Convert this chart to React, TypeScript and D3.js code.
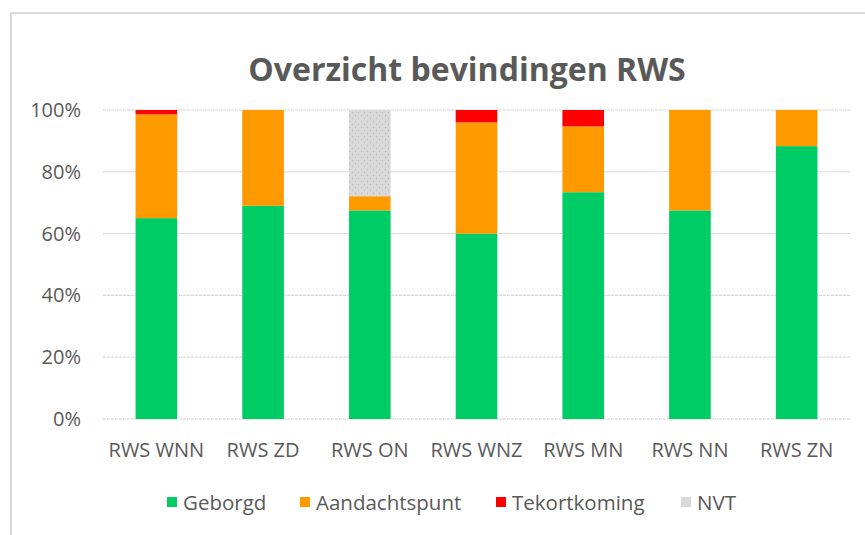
import React from "react";
import * as d3 from "d3";

const categories = ["RWS WNN", "RWS ZD", "RWS ON", "RWS WNZ", "RWS MN", "RWS NN", "RWS ZN"];
const seriesNames = ["Geborgd", "Aandachtspunt", "Tekortkoming", "NVT"];
const geborgd = [65, 69, 67.5, 60, 73.4, 67.5, 88.3];
const aandachtspunt = [33.6, 31, 4.6, 36, 21.3, 32.5, 11.7];
const tekortkoming = [1.4, 0, 0, 4, 5.3, 0, 0];
const nvt = [0, 0, 27.9, 0, 0, 0, 0];
const yTicks = [0, 20, 40, 60, 80, 100];

const colors = ["#00CC66", "#FF9900", "#FF0000", "url(#nvtPattern)"];
const legendColors = ["#00CC66", "#FF9900", "#FF0000", "#D9D9D9"];

const W = 865;
const H = 535;
const FONT = "'Open Sans', sans-serif";

export default function App() {
  const series = [geborgd, aandachtspunt, tekortkoming, nvt];
  const x = d3.scaleBand<string>().domain(categories).range([103, 850]).paddingInner(0.61).paddingOuter(0.305);
  const y = d3.scaleLinear().domain([0, 100]).range([419, 110]);
  const table = categories.map((c, i) => {
    const o: any = { cat: c };
    seriesNames.forEach((s, k) => (o[s] = series[k][i]));
    return o;
  });
  const stacked = d3.stack<any>().keys(seriesNames)(table);
  const legendX = [167, 300, 496, 681];

  return (
    <svg width={W} height={H} style={{ position: "absolute", left: 0, top: 0 }}>
      <defs>
        <pattern id="nvtPattern" width="6" height="6" patternUnits="userSpaceOnUse">
          <rect width="6" height="6" fill="#D9D9D9" />
          <circle cx="1.5" cy="1.5" r="0.7" fill="#B8B8B8" />
          <circle cx="4.5" cy="4.5" r="0.7" fill="#B8B8B8" />
        </pattern>
      </defs>
      <rect x={0} y={0} width={W} height={H} fill="#fff" />
      <path d={`M11,${H} L11,13 L${W},13`} fill="none" stroke="#D9D9D9" strokeWidth={2} />
      <text x={467} y={81} textAnchor="middle" fontFamily={FONT} fontWeight="bold" fontSize={32} fill="#595959">
        Overzicht bevindingen RWS
      </text>
      {yTicks.map((t) => (
        <g key={t}>
          <line x1={103} x2={850} y1={y(t)} y2={y(t)} stroke="#D0D0D0" strokeWidth={1} strokeDasharray="3,1" />
          <text x={81} y={y(t) + 7} textAnchor="end" fontFamily={FONT} fontSize={20} fill="#595959">
            {t}%
          </text>
        </g>
      ))}
      {stacked.map((layer, k) => (
        <g key={layer.key} fill={colors[k]}>
          {layer.map((d, i) =>
            d[1] - d[0] > 0 ? (
              <rect
                key={i}
                x={x(categories[i])}
                width={x.bandwidth()}
                y={y(d[1])}
                height={y(d[0]) - y(d[1])}
              />
            ) : null
          )}
        </g>
      ))}
      {categories.map((c) => (
        <text key={c} x={(x(c) as number) + x.bandwidth() / 2} y={457} textAnchor="middle" fontFamily={FONT} fontSize={20} fill="#595959">
          {c}
        </text>
      ))}
      {seriesNames.map((s, k) => (
        <g key={s}>
          <rect x={legendX[k]} y={497} width={10} height={10} fill={legendColors[k]} />
          <text x={legendX[k] + 16} y={510} fontFamily={FONT} fontSize={20.5} fill="#595959">
            {s}
          </text>
        </g>
      ))}
    </svg>
  );
}
